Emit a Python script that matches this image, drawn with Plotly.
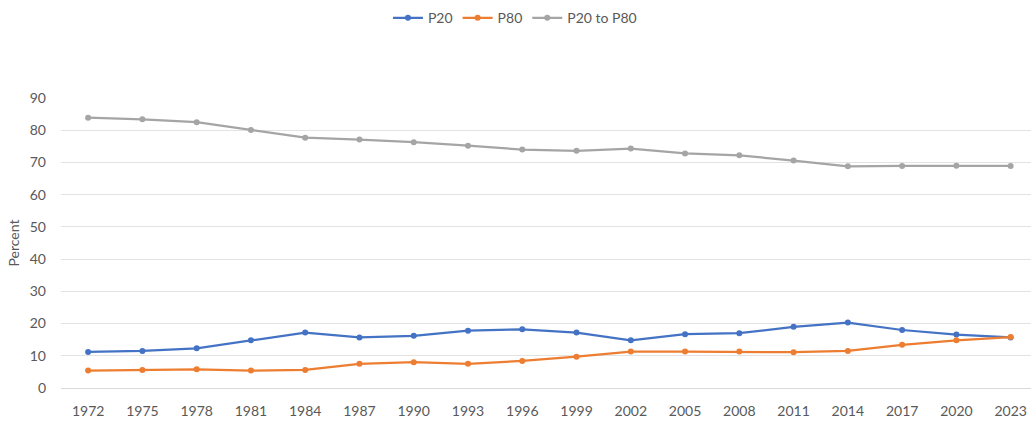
import plotly.graph_objects as go

years = ["1972", "1975", "1978", "1981", "1984", "1987", "1990", "1993", "1996",
         "1999", "2002", "2005", "2008", "2011", "2014", "2017", "2020", "2023"]
p20 = [11.2, 11.5, 12.3, 14.8, 17.2, 15.7, 16.2, 17.8, 18.2,
       17.2, 14.8, 16.7, 17.0, 19.0, 20.3, 18.0, 16.6, 15.7]
p80 = [5.4, 5.6, 5.8, 5.4, 5.6, 7.5, 8.0, 7.5, 8.4,
       9.7, 11.3, 11.3, 11.3, 11.1, 11.5, 13.4, 14.8, 15.8]
p20_to_p80 = [83.9, 83.4, 82.5, 80.1, 77.7, 77.1, 76.3, 75.2, 74.0,
              73.6, 74.3, 72.8, 72.2, 70.6, 68.8, 68.9, 69.0, 68.9]
y_ticks = [0, 10, 20, 30, 40, 50, 60, 70, 80, 90]

series = [("P20", p20, "#4472C4"), ("P80", p80, "#ED7D31"), ("P20 to P80", p20_to_p80, "#A5A5A5")]

fig = go.Figure()
for name, vals, color in series:
    fig.add_trace(go.Scatter(
        x=years, y=vals, name=name, mode="lines+markers",
        line=dict(color=color, width=2.25),
        marker=dict(color=color, size=6, symbol="circle"),
    ))

font_family = "Lato, 'Open Sans', sans-serif"
fig.update_layout(
    width=1031, height=422,
    margin=dict(l=61, r=0, t=98, b=34),
    paper_bgcolor="white", plot_bgcolor="white",
    font=dict(family=font_family, size=14, color="#595959"),
    showlegend=True,
    legend=dict(orientation="h", x=0.468, xanchor="center", y=1.275, yanchor="middle",
                font=dict(size=14, color="#595959"), itemwidth=30,
                tracegroupgap=0),
    xaxis=dict(
        type="category", range=[-0.5, 17.375],
        showgrid=False, showline=True, linecolor="#D9D9D9", linewidth=1,
        ticks="", tickfont=dict(size=14, color="#595959"),
        ticklabelstandoff=10, zeroline=False,
    ),
    yaxis=dict(
        range=[0, 90], tickvals=y_ticks, showgrid=True, gridcolor="#E3E3E3", gridwidth=1,
        zeroline=False, showline=False, ticks="",
        tickfont=dict(size=14, color="#595959"), ticklabelstandoff=14,
        title=dict(text="Percent", font=dict(size=14, color="#595959"), standoff=6),
    ),
)

fig.write_html("out.html")
